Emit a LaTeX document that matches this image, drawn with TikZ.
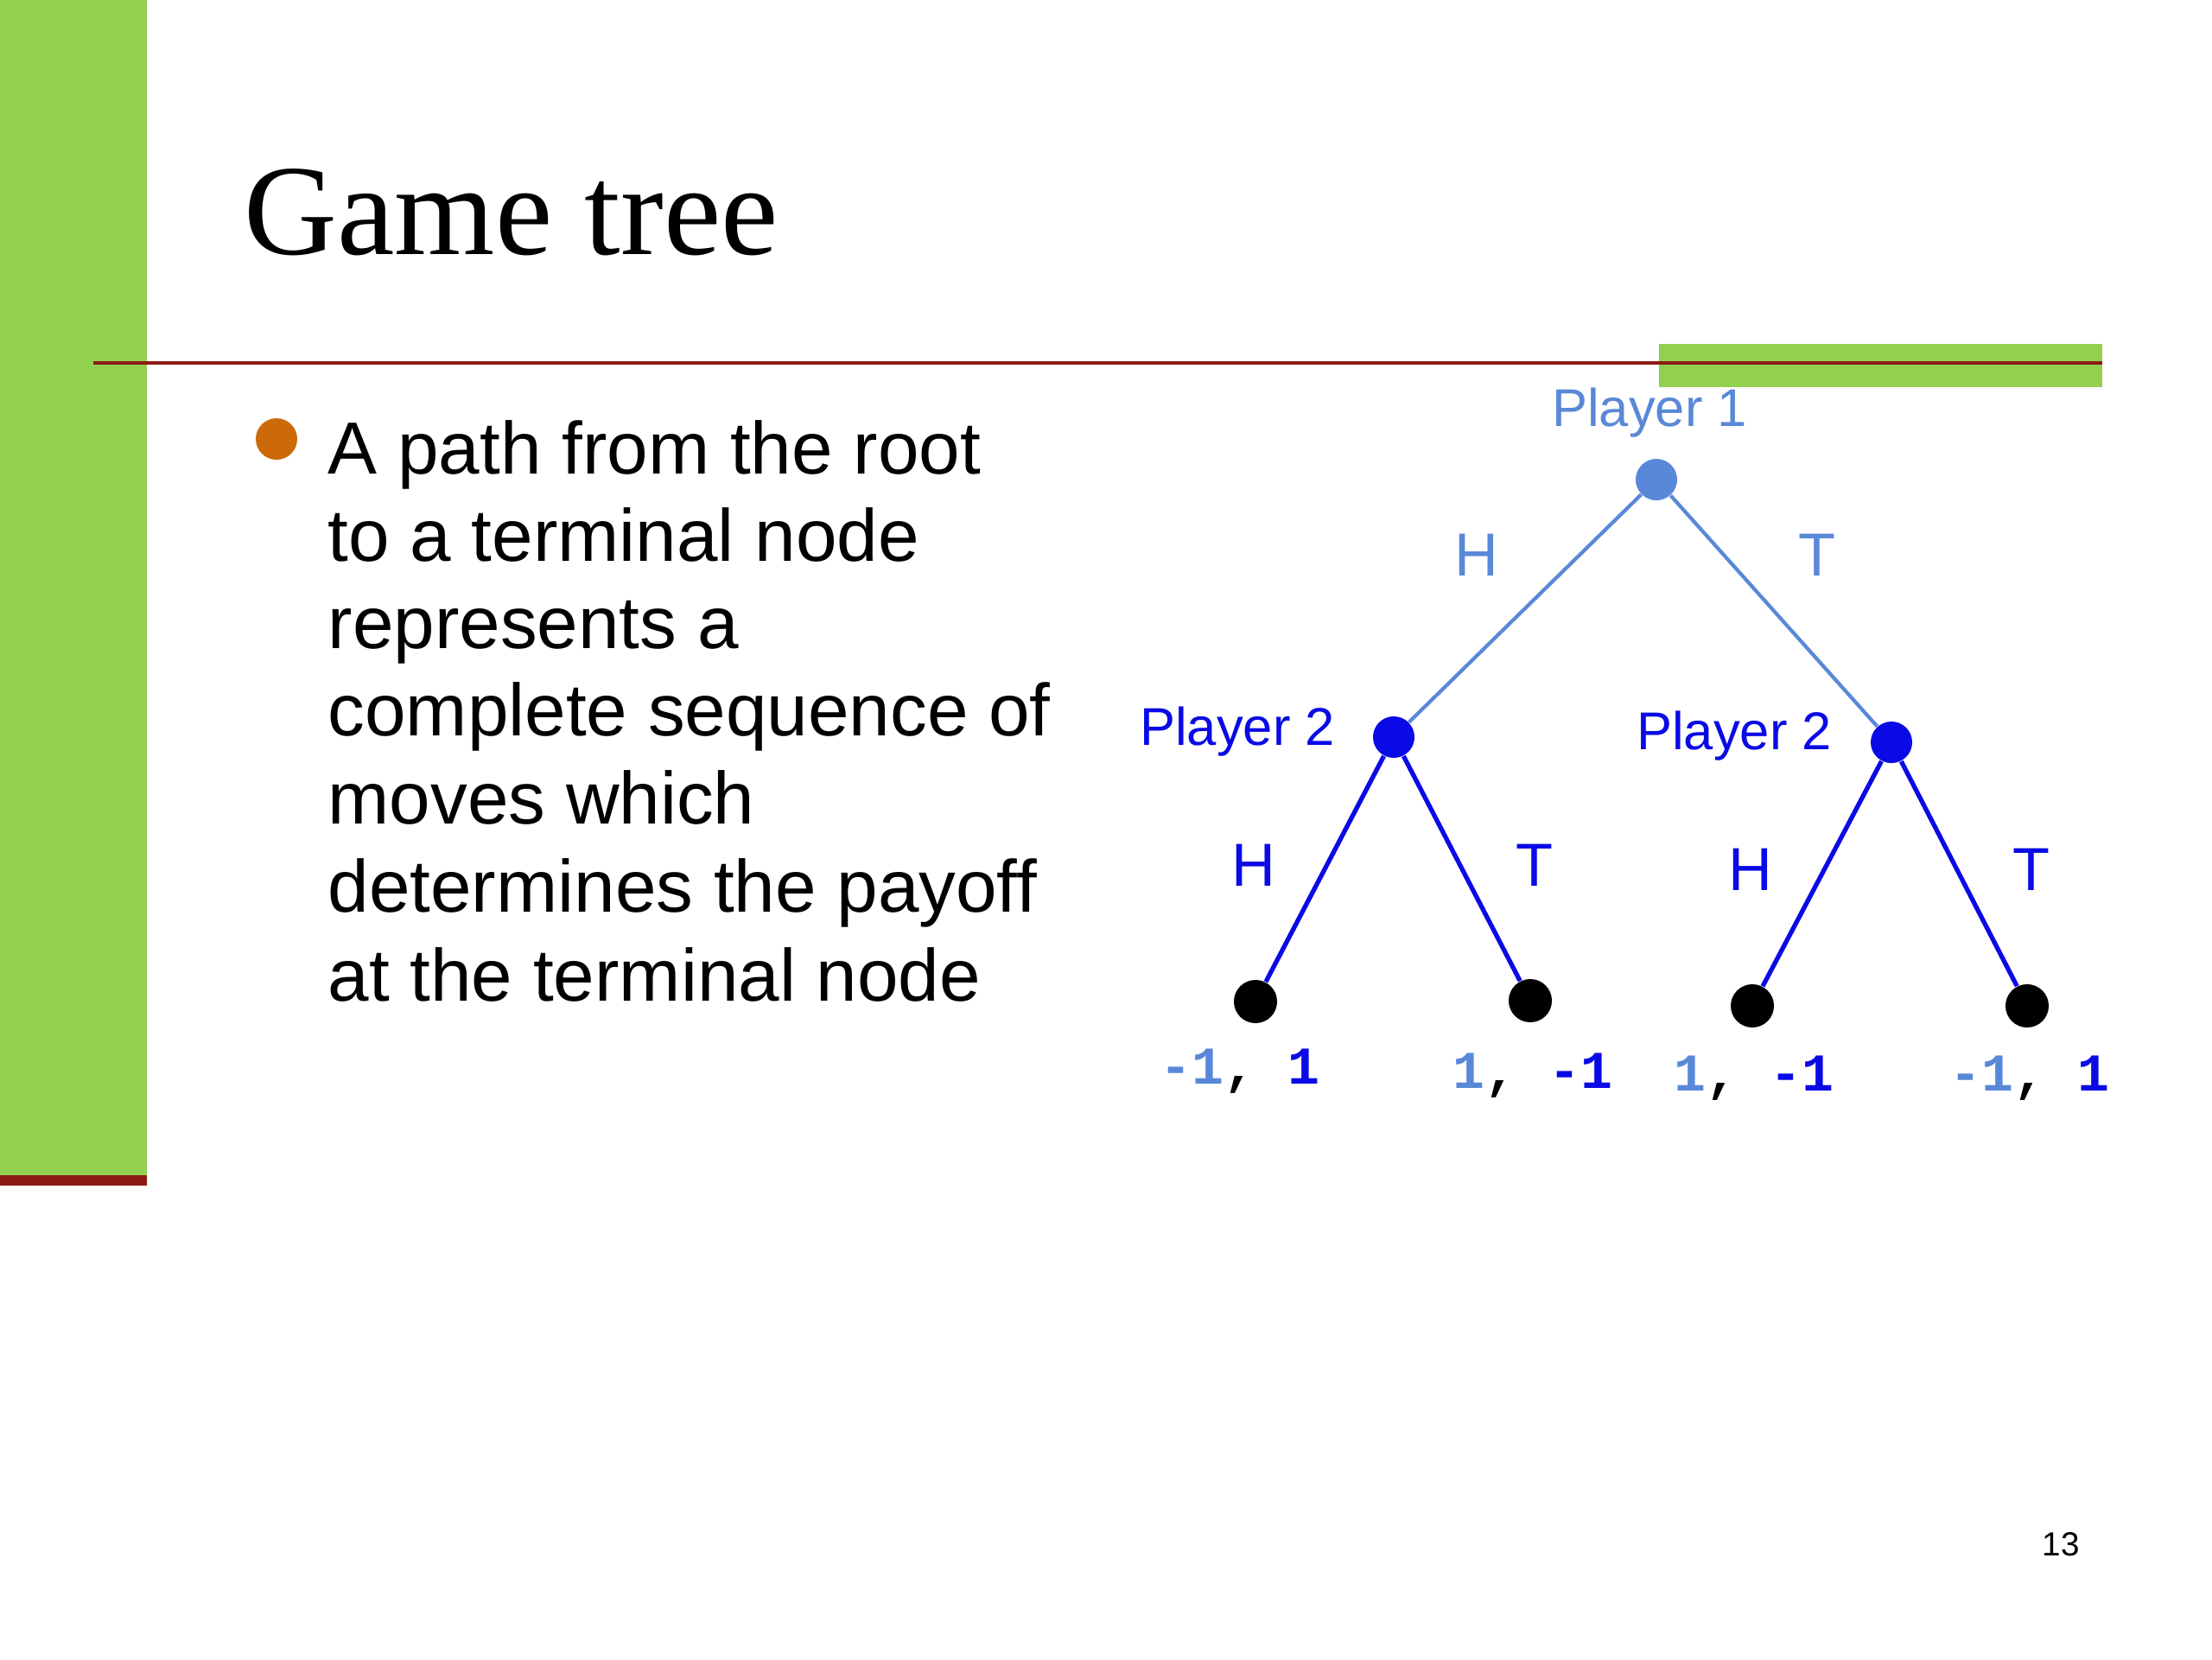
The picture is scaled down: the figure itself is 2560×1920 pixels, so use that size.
\documentclass[tikz,border=0pt]{standalone}
\usepackage{fontspec}
\setmainfont{Liberation Sans}
\newfontfamily\titlefont{Liberation Serif}
\newfontfamily\paymono{Liberation Mono}
\definecolor{slidegreen}{HTML}{92D050}
\definecolor{slidered}{HTML}{8B1A14}
\definecolor{bulletorange}{HTML}{CC6A0A}
\definecolor{lightblue}{HTML}{5A88D8}
\definecolor{darkblue}{HTML}{0A0AE6}
\begin{document}
\begin{tikzpicture}[x=0.01cm,y=-0.01cm,
  txt/.style={inner sep=0pt, outer sep=0pt, anchor=base},
  bodyline/.style={inner sep=0pt, anchor=base west, font=\fontsize{24.3}{29}\selectfont},
  rootdot/.style={circle, fill=lightblue, minimum size=48*0.2845pt, inner sep=0pt},
  p2dot/.style={circle, fill=darkblue, minimum size=48*0.2845pt, inner sep=0pt},
  leafdot/.style={circle, fill=black, minimum size=50*0.2845pt, inner sep=0pt},
  playerlab/.style={txt, font=\fontsize{17.5}{20}\selectfont},
  movelab/.style={txt, font=\fontsize{20}{24}\selectfont},
  payoff/.style={txt, font=\fontsize{17.5}{20}\paymono\bfseries},
  upedge/.style={lightblue, line width=1.2pt},
  lowedge/.style={darkblue, line width=1.5pt}]
\useasboundingbox (0,0) rectangle (2560,1920);
\fill[white] (0,0) rectangle (2560,1920);
% slide decoration
\fill[slidegreen] (0,0) rectangle (170,1360);
\fill[slidered] (0,1360) rectangle (170,1372);
\fill[slidegreen] (1920,398) rectangle (2433,448);
\draw[slidered, line width=1.2pt] (108,420) -- (2433,420);
% title
\node[inner sep=0pt, anchor=base west, font=\fontsize{42.5}{50}\titlefont] (title) at (282,294) {Game tree};
% bullet
\fill[bulletorange] (320,508) circle (24);
\node[bodyline] (l1) at (379,548) {A path from the root};
\node[bodyline] (l2) at (379,649) {to a terminal node};
\node[bodyline] (l3) at (379,750) {represents a};
\node[bodyline] (l4) at (379,851) {complete sequence of};
\node[bodyline] (l5) at (379,953) {moves which};
\node[bodyline] (l6) at (379,1055) {determines the payoff};
\node[bodyline] (l7) at (379,1158) {at the terminal node};
% tree nodes
\node[rootdot] (root) at (1917,555) {};
\node[p2dot] (p2l) at (1613,853) {};
\node[p2dot] (p2r) at (2189,859) {};
\node[leafdot] (t1) at (1453,1159) {};
\node[leafdot] (t2) at (1771,1158) {};
\node[leafdot] (t3) at (2028,1164) {};
\node[leafdot] (t4) at (2346,1164) {};
% edges
\draw[upedge] (root) -- (p2l);
\draw[upedge] (root) -- (p2r);
\draw[lowedge] (p2l) -- (t1);
\draw[lowedge] (p2l) -- (t2);
\draw[lowedge] (p2r) -- (t3);
\draw[lowedge] (p2r) -- (t4);
% player labels
\node[playerlab, text=lightblue] (pl1) at (1909,493) {Player 1};
\node[playerlab, text=darkblue] (pl2a) at (1432,862) {Player 2};
\node[playerlab, text=darkblue] (pl2b) at (2007,867) {Player 2};
% move labels
\node[movelab, text=lightblue] (h0) at (1709,666) {H};
\node[movelab, text=lightblue] (t0) at (2103,666) {T};
\node[movelab, text=darkblue] (h1) at (1451,1025) {H};
\node[movelab, text=darkblue] (tt1) at (1776,1025) {T};
\node[movelab, text=darkblue] (h2) at (2026,1030) {H};
\node[movelab, text=darkblue] (tt2) at (2351,1030) {T};
% payoffs
\node[payoff] (pay1) at (1435,1254) {\textcolor{lightblue}{-1}, \textcolor{darkblue}{1}};
\node[payoff] (pay2) at (1774,1259) {\textcolor{lightblue}{1}, \textcolor{darkblue}{-1}};
\node[payoff] (pay3) at (2030,1262) {\textcolor{lightblue}{1}, \textcolor{darkblue}{-1}};
\node[payoff] (pay4) at (2349,1262) {\textcolor{lightblue}{-1}, \textcolor{darkblue}{1}};
% page number
\node[txt, font=\fontsize{11}{13}\selectfont] (pg) at (2385,1800) {13};
\end{tikzpicture}
\end{document}
